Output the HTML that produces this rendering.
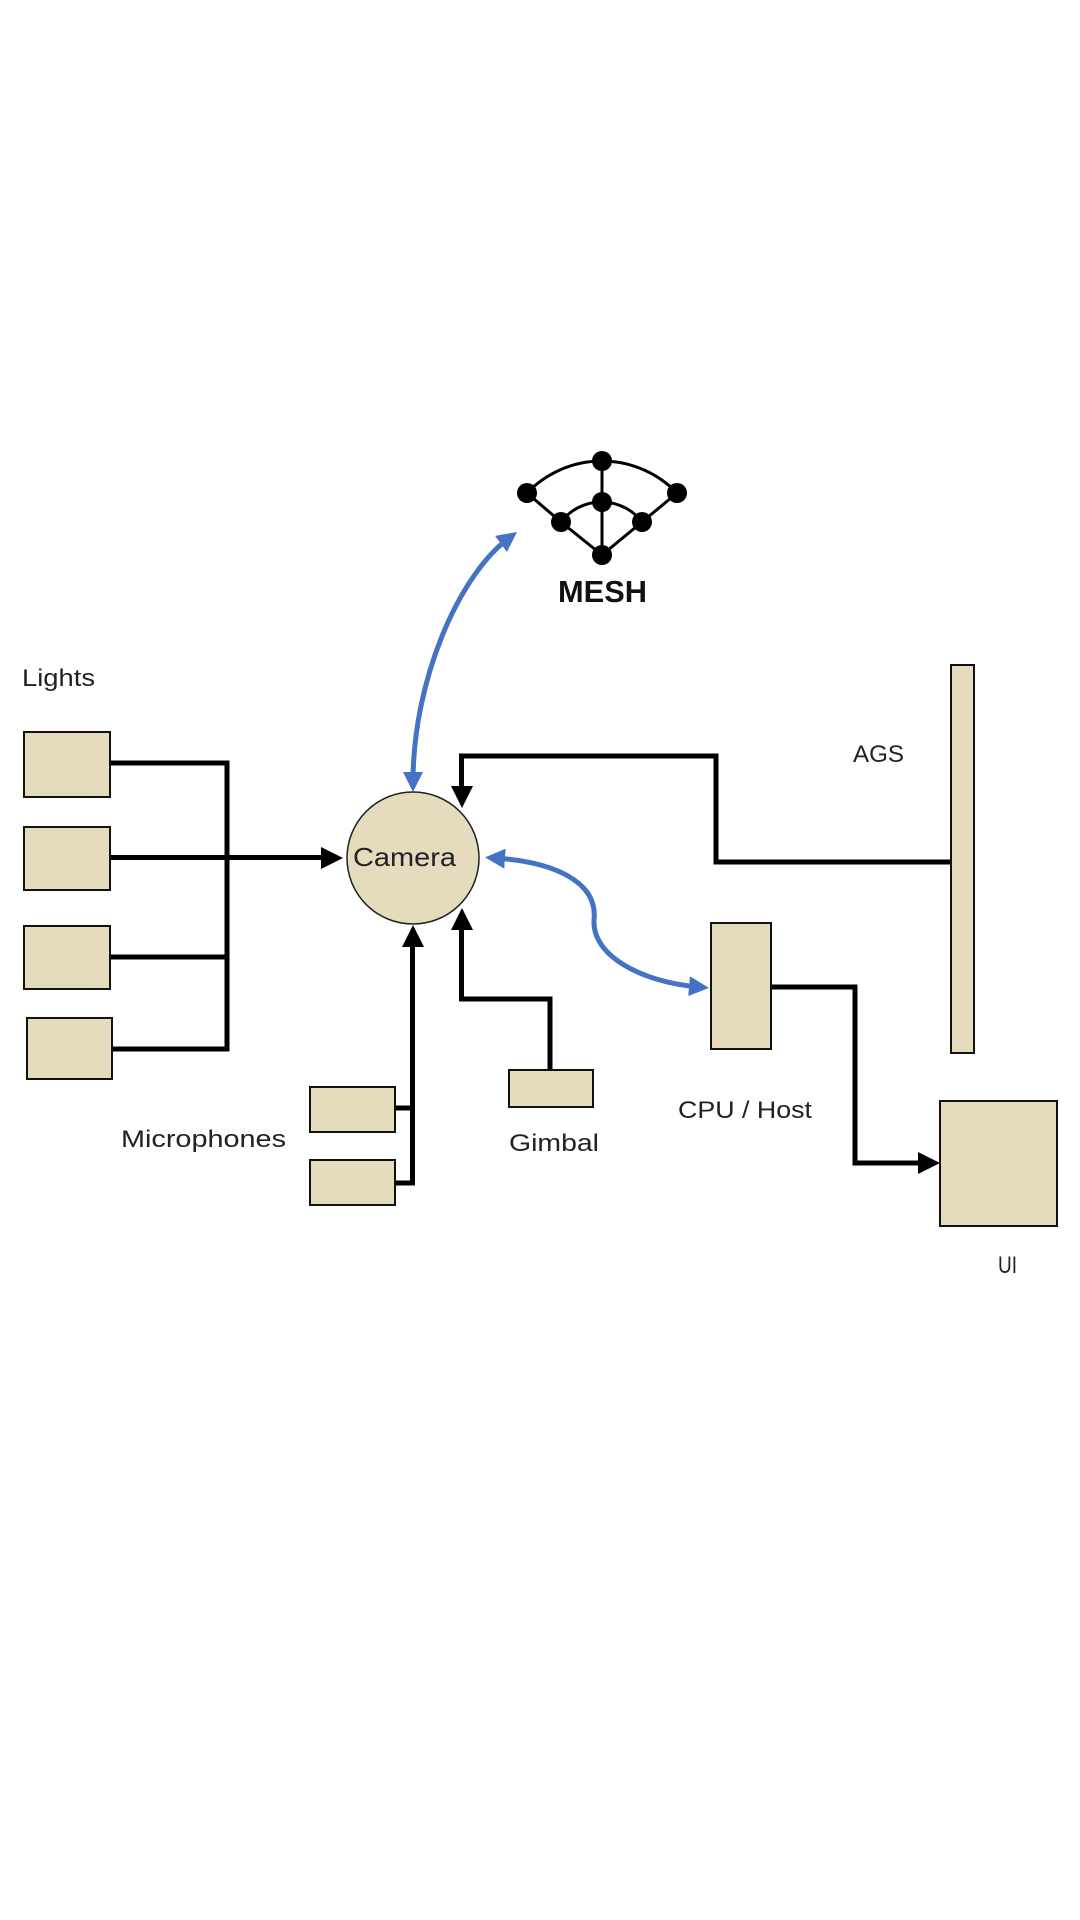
<!DOCTYPE html>
<html>
<head>
<meta charset="utf-8">
<style>
  html, body { margin:0; padding:0; background:#ffffff; }
  svg { display:block; }
  .lbl { font-family: "Liberation Sans", sans-serif; fill:#222; font-size:24px; }
  .box { fill:#E4DCBD; stroke:#111; stroke-width:2; }
  .wire { fill:none; stroke:#000; stroke-width:5; stroke-linejoin:miter; }
  .blue { fill:none; stroke:#4472C4; stroke-width:5; }
</style>
</head>
<body>
<svg width="1080" height="1920" viewBox="0 0 1080 1920" xmlns="http://www.w3.org/2000/svg">
  <defs>
    <marker id="bh" viewBox="0 0 20 20" refX="10" refY="10" markerWidth="20" markerHeight="20" markerUnits="userSpaceOnUse" orient="auto-start-reverse">
      <path d="M0,0 L20,10 L0,20 z" fill="#4472C4"/>
    </marker>
  </defs>
  <rect x="0" y="0" width="1080" height="1920" fill="#ffffff"/>

  <!-- MESH icon -->
  <g stroke="#000" stroke-width="3" fill="none">
    <path d="M527 493 A104 104 0 0 1 677 493"/>
    <path d="M561 522 A51 51 0 0 1 642 522"/>
    <line x1="602" y1="461" x2="602" y2="555"/>
    <line x1="527" y1="493" x2="561" y2="522"/>
    <line x1="677" y1="493" x2="642" y2="522"/>
    <line x1="561" y1="522" x2="602" y2="555"/>
    <line x1="642" y1="522" x2="602" y2="555"/>
  </g>
  <g fill="#000">
    <circle cx="602" cy="461" r="10"/>
    <circle cx="527" cy="493" r="10"/>
    <circle cx="677" cy="493" r="10"/>
    <circle cx="602" cy="502" r="10"/>
    <circle cx="561" cy="522" r="10"/>
    <circle cx="642" cy="522" r="10"/>
    <circle cx="602" cy="555" r="10"/>
  </g>
  <text x="558" y="602" textLength="89" lengthAdjust="spacingAndGlyphs" style="font-family:'Liberation Sans',sans-serif;font-weight:bold;font-size:31px;fill:#111;">MESH</text>

  <!-- Black wires -->
  <path class="wire" d="M110 763 H227 V1049 H112"/>
  <path class="wire" d="M110 857.5 H323"/>
  <path class="wire" d="M110 957 H227"/>
  <polygon points="343,858 321,847 321,869" fill="#000"/>

  <path class="wire" d="M951 862 H716 V756 H461.5 V788"/>
  <polygon points="462,808 451,786 473,786" fill="#000"/>

  <path class="wire" d="M395 1108 H412.5 M395 1183 H412.5 V944"/>
  <polygon points="413,925 402,947 424,947" fill="#000"/>

  <path class="wire" d="M550 1070 V999 H461.5 V928"/>
  <polygon points="462,908 451,930 473,930" fill="#000"/>

  <path class="wire" d="M771 987 H855 V1163 H921"/>
  <polygon points="940,1163 918,1152 918,1174" fill="#000"/>

  <!-- Boxes -->
  <rect class="box" x="24" y="732" width="86" height="65"/>
  <rect class="box" x="24" y="827" width="86" height="63"/>
  <rect class="box" x="24" y="926" width="86" height="63"/>
  <rect class="box" x="27" y="1018" width="85" height="61"/>
  <rect class="box" x="310" y="1087" width="85" height="45"/>
  <rect class="box" x="310" y="1160" width="85" height="45"/>
  <rect class="box" x="509" y="1070" width="84" height="37"/>
  <rect class="box" x="711" y="923" width="60" height="126"/>
  <rect class="box" x="940" y="1101" width="117" height="125"/>
  <rect class="box" x="951" y="665" width="23" height="388"/>

  <!-- Camera -->
  <circle cx="413" cy="858" r="66" fill="#E4DCBD" stroke="#222" stroke-width="1.5"/>
  <text class="lbl" x="353" y="866" textLength="103" lengthAdjust="spacingAndGlyphs" style="font-size:26px">Camera</text>

  <!-- Blue connectors -->
  <path class="blue" d="M413 782 C 413 680, 459 575, 509 538" marker-start="url(#bh)" marker-end="url(#bh)"/>
  <path class="blue" d="M495 858 C 555 862, 598 882, 594 920 C 592 955, 640 982, 699 987" marker-start="url(#bh)" marker-end="url(#bh)"/>

  <!-- Labels -->
  <text class="lbl" x="22" y="686" textLength="73" lengthAdjust="spacingAndGlyphs">Lights</text>
  <text class="lbl" x="853" y="762" textLength="51" lengthAdjust="spacingAndGlyphs">AGS</text>
  <text class="lbl" x="121" y="1147" textLength="165" lengthAdjust="spacingAndGlyphs">Microphones</text>
  <text class="lbl" x="509" y="1151" textLength="90" lengthAdjust="spacingAndGlyphs">Gimbal</text>
  <text class="lbl" x="678" y="1118" textLength="134" lengthAdjust="spacingAndGlyphs">CPU / Host</text>
  <text class="lbl" x="998" y="1273" textLength="19" lengthAdjust="spacingAndGlyphs">UI</text>
</svg>
</body>
</html>
